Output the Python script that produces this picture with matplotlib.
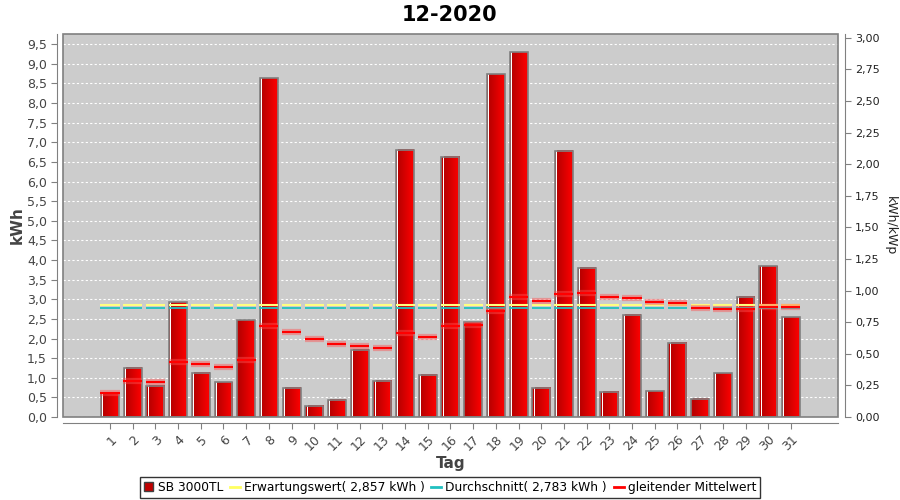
import numpy as np
import matplotlib.pyplot as plt
from matplotlib.patches import Patch, Rectangle
from matplotlib.lines import Line2D
from matplotlib.colors import LinearSegmentedColormap
from matplotlib.ticker import FuncFormatter, MultipleLocator

# daily yield (kWh), December 2020
days = list(range(1, 32))
ertrag = [0.62, 1.26, 0.80, 2.92, 1.13, 0.88, 2.46, 8.63, 0.75, 0.29,
          0.44, 1.72, 0.93, 6.81, 1.08, 6.63, 2.41, 8.73, 9.29, 0.75,
          6.79, 3.80, 0.64, 2.60, 0.66, 1.89, 0.46, 1.11, 3.07, 3.84, 2.54]
# gleitender Mittelwert
mittel = [0.62, 0.93, 0.90, 1.41, 1.34, 1.27, 1.45, 2.33, 2.16, 1.98,
          1.85, 1.82, 1.77, 2.13, 2.05, 2.33, 2.34, 2.70, 3.05, 2.95,
          3.13, 3.16, 3.05, 3.02, 2.92, 2.90, 2.79, 2.74, 2.76, 2.80, 2.80]
erwartung = 2.857
durchschnitt = 2.783

fig = plt.figure(figsize=(9, 5), dpi=100)
ax = fig.add_axes([0.07, 0.166, 0.861, 0.766])
ax.set_facecolor('#cccccc')

w = 0.79
grad = np.linspace(0, 1, 64).reshape(1, -1)
redmap = LinearSegmentedColormap.from_list('rot', ['#b80000', '#ff0000'])

for d, v in zip(days, ertrag):
    x0 = d - w / 2
    ax.imshow(grad, cmap=redmap, extent=[x0 + 0.1, d + w / 2, 0, v],
              aspect='auto', zorder=3, interpolation='bilinear')
    ax.add_patch(Rectangle((x0, 0), 0.06, v, facecolor='#c00000', edgecolor='none', zorder=3))
    ax.add_patch(Rectangle((x0 + 0.06, 0), 0.04, v, facecolor='white', edgecolor='none', zorder=3))
    ax.add_patch(Rectangle((x0, 0), w, v, facecolor='none', edgecolor='#808080', lw=1.2, zorder=4))

xs = np.array(days)
sw = 0.42
ax.hlines([erwartung] * 31, xs - sw, xs + sw, color='#ffff80', lw=1.5, zorder=5)
ax.hlines([durchschnitt] * 31, xs - sw, xs + sw, color='#20c0c0', lw=1.3, zorder=5)
ax.hlines(mittel, xs - sw, xs + sw, color='#ff5050', lw=4.5, alpha=0.45, zorder=6)
ax.hlines(mittel, xs - sw, xs + sw, color='#ff0000', lw=1.5, zorder=6)

ax.set_xlim(-1.07, 33.07)
ax.set_ylim(0, 9.76)
ax.yaxis.set_major_locator(MultipleLocator(0.5))
ax.yaxis.set_major_formatter(FuncFormatter(lambda v, p: ('%.1f' % v).replace('.', ',')))
ax.set_xticks(days)
ax.set_xticklabels([str(d) for d in days])
ax.grid(axis='y', color='white', ls=(0, (2, 2)), lw=0.8, zorder=1)
ax.set_axisbelow(True)

for s in ['top', 'right']:
    ax.spines[s].set_visible(False)
for s in ['left', 'bottom']:
    ax.spines[s].set_position(('outward', 4))
    ax.spines[s].set_color('#808080')
ax.add_patch(Rectangle((0, 0), 1, 1, transform=ax.transAxes, facecolor='none',
                       edgecolor='#808080', lw=1.2, zorder=10, clip_on=False))
ax.tick_params(colors='#444444', labelsize=9, length=4)
ax.tick_params(axis='both', color='#808080')
ax.tick_params(axis='x', labelrotation=45)
for lab in ax.get_xticklabels():
    lab.set_ha('right')
    lab.set_rotation_mode('anchor')

ax.set_ylabel('kWh', fontsize=11, fontweight='bold', color='#444444', labelpad=2)
ax.set_xlabel('Tag', fontsize=11, fontweight='bold', color='#444444', labelpad=2)

ax2 = ax.twinx()
ax2.set_ylim(0, 3.03)
ax2.yaxis.set_major_locator(MultipleLocator(0.25))
ax2.yaxis.set_major_formatter(FuncFormatter(lambda v, p: ('%.2f' % v).replace('.', ',')))
for s in ['top', 'left', 'bottom']:
    ax2.spines[s].set_visible(False)
ax2.spines['right'].set_position(('outward', 5))
ax2.spines['right'].set_color('#808080')
ax2.tick_params(colors='#222222', labelsize=8, length=4)
ax2.tick_params(axis='y', color='#808080')
ax2.set_ylabel('kWh/kWp', fontsize=9, rotation=270, labelpad=12, color='#222222')

fig.suptitle('12-2020', fontsize=15, fontweight='bold', y=0.99)

handles = [Patch(facecolor='#c00000', edgecolor='#404040', label='SB 3000TL'),
           Line2D([], [], color='#ffff60', lw=2, label='Erwartungswert( 2,857 kWh )'),
           Line2D([], [], color='#20c0c0', lw=2, label='Durchschnitt( 2,783 kWh )'),
           Line2D([], [], color='#ff0000', lw=2, label='gleitender Mittelwert')]
leg = fig.legend(handles=handles, loc='center', bbox_to_anchor=(0.5, 0.025), ncol=4,
                 fontsize=8.8, frameon=True, fancybox=False, handlelength=0.8,
                 handletextpad=0.35, columnspacing=0.55, borderpad=0.3, edgecolor='black')
leg.get_frame().set_linewidth(1)

fig.savefig('out.png', dpi=100)
